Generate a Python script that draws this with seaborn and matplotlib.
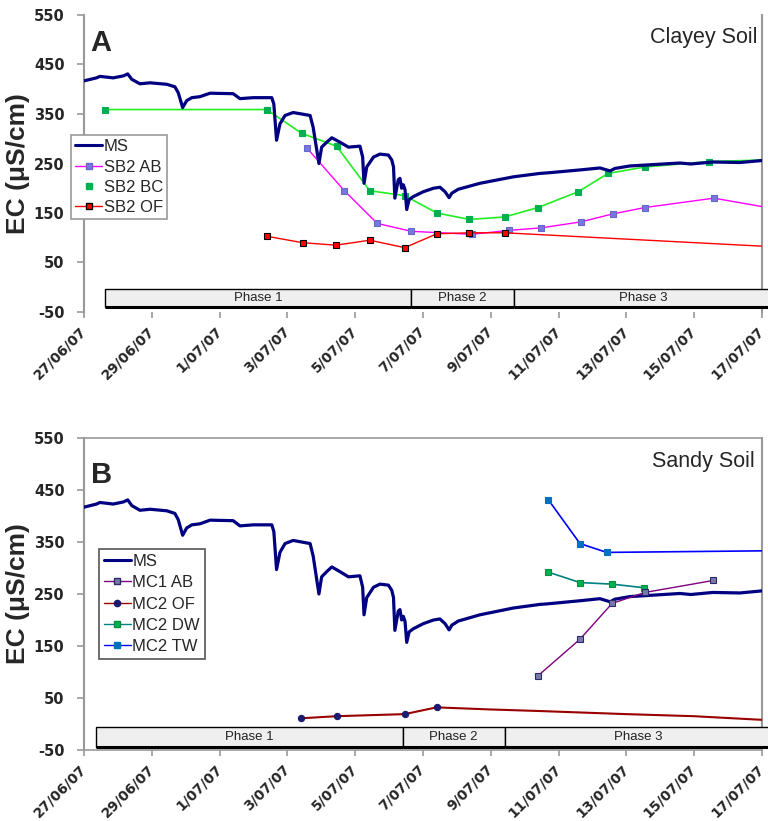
import numpy as np
import pandas as pd
import matplotlib
matplotlib.use("Agg")
import matplotlib.pyplot as plt
import matplotlib.dates as mdates
from matplotlib.patches import Rectangle
from matplotlib.lines import Line2D
import seaborn as sns

# ---------------- data (days counted from 27/06/07 00:00) ----------------
START = pd.Timestamp("2007-06-27")
tick_days = [0, 2, 4, 6, 8, 10, 12, 14, 16, 18, 20]
tick_labels = ["27/06/07", "29/06/07", "1/07/07", "3/07/07", "5/07/07", "7/07/07",
               "9/07/07", "11/07/07", "13/07/07", "15/07/07", "17/07/07"]
y_ticks = [-50, 50, 150, 250, 350, 450, 550]

ms_days = [0, 0.37, 0.47, 0.86, 1.16, 1.29, 1.41, 1.65, 1.95, 2.44, 2.68, 2.78, 2.91, 3.03,
           3.18, 3.42, 3.72, 4.40, 4.60, 4.99, 5.54, 5.60, 5.68, 5.78, 5.93, 6.17, 6.67, 6.76,
           6.93, 7.01, 7.16, 7.31, 7.55, 7.80, 8.14, 8.22, 8.26, 8.34, 8.54, 8.73, 8.98, 9.08,
           9.13, 9.17, 9.27, 9.32, 9.37, 9.42, 9.47, 9.52, 9.59, 9.71, 10.01, 10.31, 10.50,
           10.65, 10.77, 10.85, 11.04, 11.68, 12.66, 13.45, 13.66, 14.63, 15.22, 15.37, 15.52,
           15.66, 16.10, 17.58, 17.90, 18.55, 19.35, 20.0]
ms_vals = [417, 423, 426, 423, 427, 431, 420, 411, 413, 410, 405, 393, 363, 377,
           383, 385, 392, 391, 381, 383, 383, 370, 297, 330, 347, 353, 347, 323,
           250, 283, 293, 302, 293, 283, 285, 263, 210, 243, 263, 269, 267, 257,
           243, 180, 217, 220, 200, 207, 197, 157, 177, 183, 193, 200, 202,
           193, 181, 190, 198, 210, 223, 230, 231, 237, 241, 238, 235,
           240, 245, 251, 249, 253, 252, 256]

# Panel A - clayey soil
sb2_ab_days = [6.58, 7.68, 8.65, 9.65, 11.44, 12.55, 13.49, 14.65, 15.59, 16.54, 18.58, 20.0]
sb2_ab_vals = [281, 195, 129, 113, 107, 115, 120, 132, 148, 161, 180, 163]
sb2_bc_days = [0.62, 5.39, 6.42, 7.45, 8.43, 9.46, 10.41, 11.37, 12.41, 13.39, 14.58, 15.46,
               16.55, 18.44, 20.0]
sb2_bc_vals = [359, 359, 311, 285, 195, 185, 150, 137, 142, 161, 193, 230, 243, 254, 257]
sb2_of_days = [5.39, 6.45, 7.43, 8.43, 9.46, 10.41, 11.37, 12.41, 20.0]
sb2_of_vals = [103, 90, 85, 95, 80, 108, 110, 110, 83]

# Panel B - sandy soil
mc1_ab_days = [13.38, 14.63, 15.58, 16.55, 18.56]
mc1_ab_vals = [92, 163, 232, 253, 276]
mc2_of_days = [6.41, 7.45, 9.46, 10.40, 11.97, 13.42, 15.99, 17.99, 20.0]
mc2_of_vals = [11, 15, 19, 32, 28, 25, 19, 15, 8]
mc2_dw_days = [13.70, 14.63, 15.57, 16.53]
mc2_dw_vals = [292, 272, 269, 262]
mc2_tw_days = [13.70, 14.63, 15.42, 20.0]
mc2_tw_vals = [431, 347, 330, 333]

phase_names = ["Phase 1", "Phase 2", "Phase 3"]
phase_edges_a = [0.62, 9.66, 12.67, 20.3]
phase_edges_b = [0.36, 9.40, 12.41, 20.3]


def to_dates(days):
    return START + pd.to_timedelta(np.asarray(days, dtype=float), unit="D")


# ---------------- style ----------------
sns.set_style("white")
plt.rcParams["font.family"] = ["Liberation Sans", "DejaVu Sans"]

NAVY = "#000080"
fig = plt.figure(figsize=(7.68, 8.21), dpi=100)
axA = fig.add_axes([84 / 768, 1 - 312 / 821, 678 / 768, 297 / 821])
axB = fig.add_axes([84 / 768, 1 - 750 / 821, 678 / 768, 312 / 821])


def series(ax, days, vals, color, lw, marker=None, ms=5, mfc=None, mec=None, nmark=None, z=3):
    kw = {}
    if marker is not None:
        kw = dict(marker=marker, markersize=ms, markerfacecolor=mfc or color,
                  markeredgecolor=mec or mfc or color, markeredgewidth=0.8)
        if nmark is not None:
            kw["markevery"] = list(range(nmark))
    sns.lineplot(x=to_dates(days), y=vals, ax=ax, color=color, linewidth=lw,
                 estimator=None, sort=False, legend=False, zorder=z, **kw)


def phases(ax, edges, y0, y1):
    for i, name in enumerate(phase_names):
        x0 = mdates.date2num(to_dates([edges[i]])[0])
        x1 = mdates.date2num(to_dates([edges[i + 1]])[0])
        ax.add_patch(Rectangle((x0, y0), x1 - x0, y1 - y0, facecolor="#efefef",
                               edgecolor="black", linewidth=1.0, clip_on=False, zorder=4))
        ax.plot([x0, x1], [y0, y0], color="black", linewidth=2.2, clip_on=False,
                zorder=4.1, solid_capstyle="butt")
        ax.text((x0 + x1) / 2, (y0 + y1) / 2, name, ha="center", va="center",
                fontsize=9.5, color="#222222", zorder=5, clip_on=False)


def style_axes(ax, box):
    ax.set_xlim(to_dates([0])[0], to_dates([20])[0])
    ax.set_ylim(-50, 550)
    ax.set_yticks(y_ticks)
    ax.set_yticklabels([str(v) for v in y_ticks], fontsize=10.5, fontweight="bold",
                       family="DejaVu Sans")
    ax.set_xticks(to_dates(tick_days))
    ax.set_xticklabels(tick_labels, rotation=45, ha="right", va="center",
                       rotation_mode="anchor", fontsize=10, fontweight="bold",
                       family="DejaVu Sans")
    ax.tick_params(axis="y", direction="out", length=5, width=1.2, color="#999999",
                   pad=9, left=True)
    ax.tick_params(axis="x", direction="out", length=4, width=1.2, color="#999999",
                   pad=8, bottom=True)
    for s in ["left", "right"]:
        ax.spines[s].set_color("#999999")
        ax.spines[s].set_linewidth(1.5)
    ax.spines["top"].set_visible(box)
    ax.spines["bottom"].set_visible(box)
    if box:
        for s in ["top", "bottom"]:
            ax.spines[s].set_color("#999999")
            ax.spines[s].set_linewidth(1.2)
    ax.set_xlabel("")
    ax.set_ylabel("EC (μS/cm)", fontsize=19, fontweight="bold", labelpad=3)


# ---------------- panel A ----------------
series(axA, ms_days, ms_vals, NAVY, 2.3, z=3)
series(axA, sb2_bc_days, sb2_bc_vals, "#22ee22", 1.2, marker="s", ms=4.5, mfc="#00b050",
       nmark=14, z=2.5)
series(axA, sb2_ab_days, sb2_ab_vals, "#ff00ff", 1.0, marker="s", ms=5, mfc="#7777dd",
       mec="#6666cc", nmark=11, z=2.6)
series(axA, sb2_of_days, sb2_of_vals, "#ff0000", 1.0, marker="s", ms=5, mfc="#ff0000",
       mec="#000000", nmark=8, z=2.7)
style_axes(axA, box=False)
phases(axA, phase_edges_a, -40, -3)

hA = [Line2D([], [], color=NAVY, lw=2.2),
      Line2D([], [], color="#ff00ff", lw=1, marker="s", ms=5, mfc="#7777dd", mec="#6666cc"),
      Line2D([], [], color="#00b050", lw=0, marker="s", ms=4.5),
      Line2D([], [], color="#ff0000", lw=1, marker="s", ms=5, mfc="#ff0000", mec="black")]
legA = fig.legend(hA, ["MS", "SB2 AB", "SB2 BC", "SB2 OF"], loc="upper left",
                  bbox_to_anchor=(71 / 768, 1 - 135 / 821), fontsize=12, frameon=True,
                  fancybox=False, edgecolor="#999999", framealpha=1, borderpad=0.25,
                  labelspacing=0.32, handlelength=1.6, handletextpad=0.1,
                  borderaxespad=0)
legA.get_frame().set_linewidth(1.2)

fig.text(101 / 768, 1 - 43 / 821, "A", fontsize=21, fontweight="bold", ha="center",
         va="center")
fig.text(757 / 768, 1 - 38 / 821, "Clayey Soil", fontsize=15.5, ha="right", va="center")

# ---------------- panel B ----------------
series(axB, ms_days, ms_vals, NAVY, 2.3, z=3)
series(axB, mc2_tw_days, mc2_tw_vals, "#0000ff", 1.2, marker="s", ms=5, mfc="#0070c0",
       nmark=3, z=2.6)
series(axB, mc2_dw_days, mc2_dw_vals, "#008080", 1.2, marker="s", ms=4.5, mfc="#00b050",
       mec="#009040", z=2.6)
series(axB, mc1_ab_days, mc1_ab_vals, "#800080", 1.0, marker="s", ms=4, mfc="#7a7aaa",
       mec="#2a2a6a", z=3.5)
series(axB, mc2_of_days, mc2_of_vals, "#990000", 1.5, marker="o", ms=4.5, mfc="#1a1a70",
       nmark=4, z=2.6)
style_axes(axB, box=True)
phases(axB, phase_edges_b, -44, -6)

hB = [Line2D([], [], color=NAVY, lw=2.2),
      Line2D([], [], color="#800080", lw=1, marker="s", ms=4, mfc="#7a7aaa", mec="#2a2a6a"),
      Line2D([], [], color="#990000", lw=1, marker="o", ms=4.5, mfc="#1a1a70", mec="#1a1a70"),
      Line2D([], [], color="#008080", lw=1, marker="s", ms=4.5, mfc="#00b050", mec="#009040"),
      Line2D([], [], color="#0000ff", lw=1, marker="s", ms=5, mfc="#0070c0", mec="#0070c0")]
legB = fig.legend(hB, ["MS", "MC1 AB", "MC2 OF", "MC2 DW", "MC2 TW"], loc="upper left",
                  bbox_to_anchor=(99 / 768, 1 - 549 / 821), fontsize=12, frameon=True,
                  fancybox=False, edgecolor="#555555", framealpha=1, borderpad=0.3,
                  labelspacing=0.38, handlelength=1.6, handletextpad=0.1,
                  borderaxespad=0)
legB.get_frame().set_linewidth(1.2)

fig.text(102 / 768, 1 - 475 / 821, "B", fontsize=21, fontweight="bold", ha="center",
         va="center")
fig.text(755 / 768, 1 - 461 / 821, "Sandy Soil", fontsize=15.5, ha="right", va="center")

fig.savefig("out.png", dpi=100)
